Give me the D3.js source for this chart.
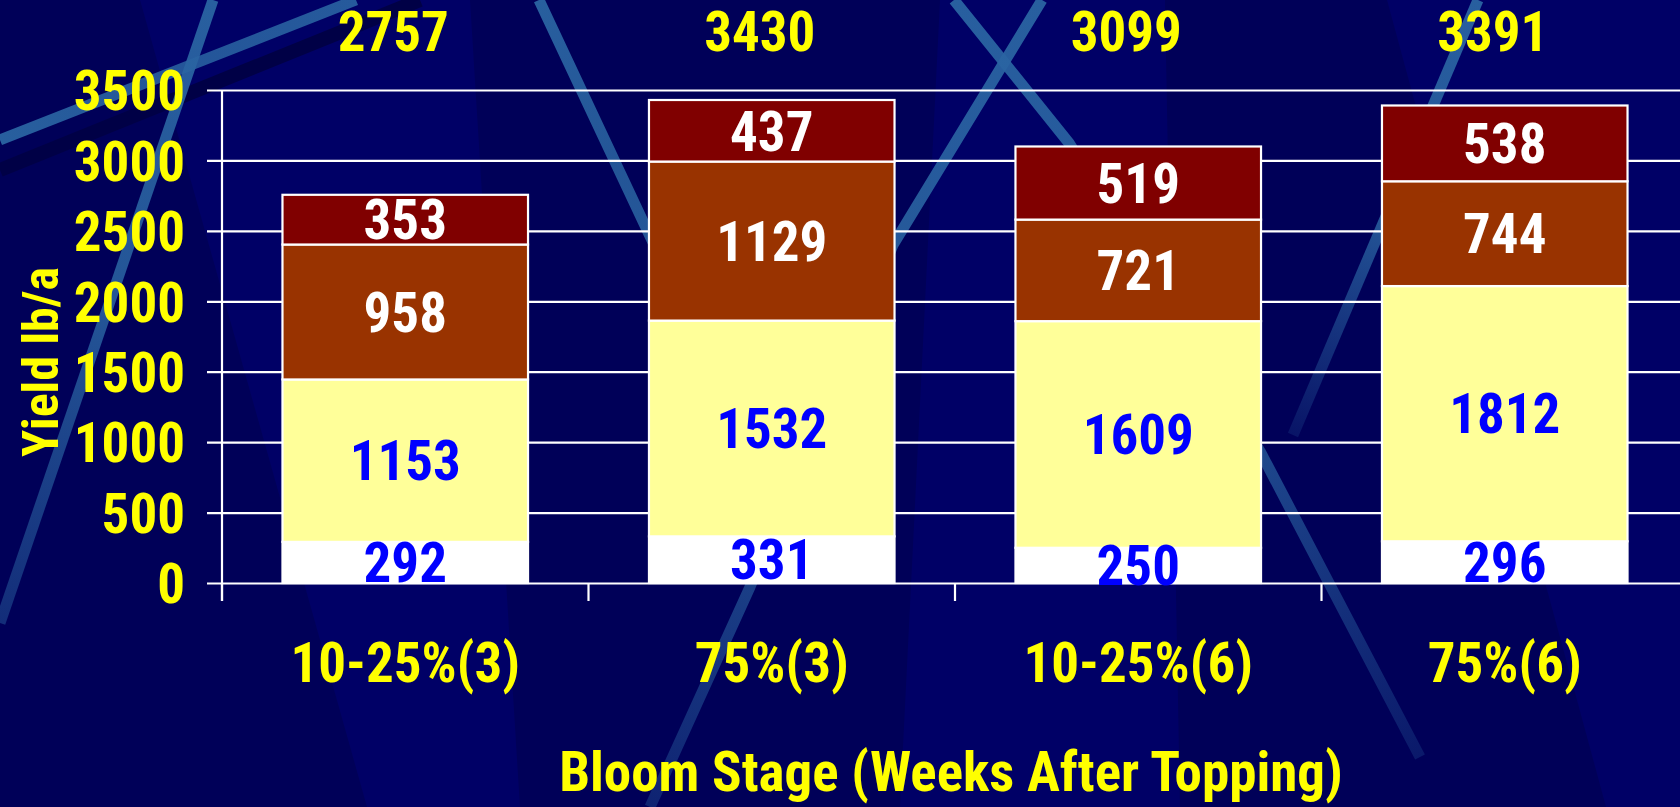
<!DOCTYPE html>
<html>
<head>
<meta charset="utf-8">
<script src="https://cdn.jsdelivr.net/npm/d3@7/dist/d3.min.js"></script>
<style>
  html, body { margin: 0; padding: 0; background: #000066; overflow: hidden; }
  svg { display: block; }
  text { font-family: "Liberation Sans Narrow", "Arial Narrow", "Roboto Condensed", sans-serif; font-weight: bold; }
</style>
</head>
<body>
<svg id="chart" width="1680" height="807"></svg>
<script>
// ---- data ----
const categories = ["10-25%(3)", "75%(3)", "10-25%(6)", "75%(6)"];
const seriesNames = ["s1", "s2", "s3", "s4"];
const s1 = [292, 331, 250, 296];
const s2 = [1153, 1532, 1609, 1812];
const s3 = [958, 1129, 721, 744];
const s4 = [353, 437, 519, 538];
const totals = [2757, 3430, 3099, 3391];
const yTicks = [0, 500, 1000, 1500, 2000, 2500, 3000, 3500];
const yTitle = "Yield lb/a";
const xTitle = "Bloom Stage (Weeks After Topping)";

// ---- styles ----
const fills = ["#FFFFFF", "#FFFF99", "#993300", "#800000"];
const labelColors = ["#0000FF", "#0000FF", "#FFFFFF", "#FFFFFF"];
const yellow = "#FFFF00";
const FS = 55;

const W = 1680, H = 807;
const svg = d3.select("#chart");
const defs = svg.append("defs");

// ---- background decoration ----
const bg = svg.append("g");
bg.append("rect").attr("width", W).attr("height", H).attr("fill", "#000066");
const darkPolys = [
  [[0,0],[140,0],[367,807],[0,807]],
  [[470,0],[940,0],[900,807],[520,807]],
  [[1165,0],[1387,0],[1606,807],[1180,807]]
];
bg.selectAll("polygon.dk").data(darkPolys).join("polygon")
  .attr("points", d => d.map(p => p.join(",")).join(" "))
  .attr("fill", "#000058");
const darkBands = [[[0,170],[420,0]]];
bg.selectAll("line.db").data(darkBands).join("line")
  .attr("x1", d => d[0][0]).attr("y1", d => d[0][1])
  .attr("x2", d => d[1][0]).attr("y2", d => d[1][1])
  .attr("stroke", "#000046").attr("stroke-width", 14);
// streaks: path points + end opacity (fade)
const streaks = [
  { pts: [[0,140],[356,0]], fade: 0.9 },
  { pts: [[213,0],[0,623]], fade: 0.45 },
  { pts: [[539,0],[648,232],[700,340]], fade: 0.9 },
  { pts: [[954,0],[1069,143],[1261,453],[1420,757]], fade: 0.25 },
  { pts: [[1042,0],[893,245],[750,587],[650,807]], fade: 0.35 },
  { pts: [[1478,0],[1293,435]], fade: 0.2 }
];
streaks.forEach((s, i) => {
  const a = s.pts[0], b = s.pts[s.pts.length - 1];
  const g = defs.append("linearGradient").attr("id", "sg" + i)
    .attr("gradientUnits", "userSpaceOnUse")
    .attr("x1", a[0]).attr("y1", a[1]).attr("x2", b[0]).attr("y2", b[1]);
  g.append("stop").attr("offset", "0").attr("stop-color", "#2A64A2").attr("stop-opacity", 0.95);
  g.append("stop").attr("offset", "0.5").attr("stop-color", "#2A64A2").attr("stop-opacity", 0.85);
  g.append("stop").attr("offset", "1").attr("stop-color", "#2A64A2").attr("stop-opacity", s.fade);
});
const line = d3.line();
bg.selectAll("path.st").data(streaks).join("path")
  .attr("d", d => line(d.pts))
  .attr("fill", "none")
  .attr("stroke", (d, i) => `url(#sg${i})`)
  .attr("stroke-width", 11).attr("stroke-linecap", "butt").attr("stroke-linejoin", "round");

// ---- scales ----
const plotLeft = 222, plotRight = 1688, plotTop = 90, plotBottom = 583;
const x = d3.scaleBand().domain(categories).range([plotLeft, plotRight]).padding(0);
const y = d3.scaleLinear().domain([0, 3500]).range([plotBottom, plotTop]);
const barW = x.bandwidth() * 0.67;

// ---- grid & axes ----
const gAxY = svg.append("g").attr("transform", `translate(${plotLeft},0)`)
  .call(d3.axisLeft(y).tickValues(yTicks).tickFormat(d3.format("d"))
    .tickSizeInner(-(plotRight - plotLeft)).tickSizeOuter(0).tickPadding(0));
gAxY.select(".domain").remove();
gAxY.selectAll(".tick line").attr("x1", -15).attr("stroke", "#FFFFFF").attr("stroke-width", 2.2);
gAxY.selectAll(".tick text").attr("x", -37).attr("dy", "0.36em")
  .attr("fill", yellow).style("font-size", FS + "px").attr("text-anchor", "end");
svg.append("line").attr("x1", plotLeft).attr("x2", plotLeft).attr("y1", plotTop).attr("y2", plotBottom + 18)
  .attr("stroke", "#FFFFFF").attr("stroke-width", 2.2);

// x ticks at band boundaries
const xAxis = svg.append("g").attr("transform", `translate(0,${plotBottom})`)
  .call(d3.axisBottom(x).tickSize(0).tickPadding(0));
xAxis.select(".domain").remove();
xAxis.selectAll(".tick text").attr("y", 99).attr("dy", "0")
  .attr("fill", yellow).style("font-size", FS + "px");
svg.append("g").selectAll("line").data(categories).join("line")
  .attr("x1", d => x(d)).attr("x2", d => x(d))
  .attr("y1", plotBottom).attr("y2", plotBottom + 18)
  .attr("stroke", "#FFFFFF").attr("stroke-width", 2.2);

// ---- stacked bars ----
const table = categories.map((c, i) => ({ cat: c, s1: s1[i], s2: s2[i], s3: s3[i], s4: s4[i] }));
const stacked = d3.stack().keys(seriesNames)(table);
const gBars = svg.append("g");
stacked.forEach((layer, li) => {
  gBars.append("g").selectAll("rect").data(layer).join("rect")
    .attr("x", d => x(d.data.cat) + (x.bandwidth() - barW) / 2)
    .attr("width", barW)
    .attr("y", d => y(d[1]))
    .attr("height", d => y(d[0]) - y(d[1]))
    .attr("fill", fills[li])
    .attr("stroke", "#FFFFFF").attr("stroke-width", 2.2);
});
stacked.forEach((layer, li) => {
  gBars.append("g").selectAll("text").data(layer).join("text")
    .attr("x", d => x(d.data.cat) + x.bandwidth() / 2)
    .attr("y", d => (y(d[0]) + y(d[1])) / 2)
    .attr("dy", "0.36em")
    .attr("text-anchor", "middle")
    .attr("fill", labelColors[li])
    .style("font-size", FS + "px")
    .text(d => d.data[seriesNames[li]]);
});

// totals
svg.append("g").selectAll("text").data(totals).join("text")
  .attr("x", (d, i) => x(categories[i]) + x.bandwidth() / 2 - 12)
  .attr("y", 51)
  .attr("text-anchor", "middle")
  .attr("fill", yellow)
  .style("font-size", FS + "px")
  .text(d => d);

// titles
svg.append("text").attr("x", 951).attr("y", 791).attr("text-anchor", "middle")
  .attr("fill", yellow).style("font-size", FS + "px").text(xTitle);
svg.append("text").attr("transform", "translate(58,362) rotate(-90)")
  .attr("text-anchor", "middle").attr("fill", yellow).style("font-size", "50px").text(yTitle);
</script>
</body>
</html>
